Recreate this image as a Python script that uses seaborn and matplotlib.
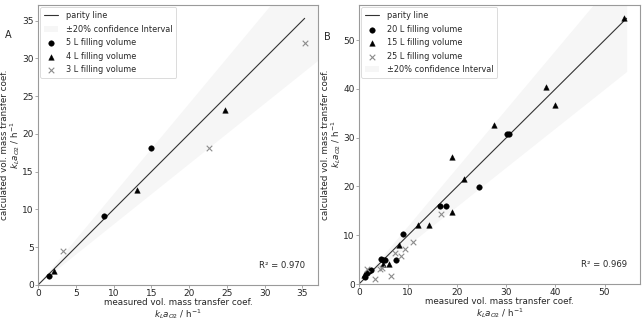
import numpy as np
import pandas as pd
import matplotlib
matplotlib.use("Agg")
import matplotlib.pyplot as plt
import seaborn as sns

# ---- panel A data (measured, calculated) ----
a_5l_meas = [1.4, 8.8, 14.9]
a_5l_calc = [1.2, 9.1, 18.1]
a_4l_meas = [2.1, 13.1, 24.8]
a_4l_calc = [1.9, 12.6, 23.2]
a_3l_meas = [3.3, 22.6, 35.3]
a_3l_calc = [4.5, 18.1, 32.1]
a_r2 = 0.970

# ---- panel B data ----
b_20l_meas = [1.2, 1.6, 2.0, 2.4, 4.5, 4.9, 5.2, 7.5, 9.0, 16.5, 17.7, 24.5, 30.2, 30.6]
b_20l_calc = [1.4, 2.3, 2.6, 2.8, 5.1, 5.0, 5.0, 5.0, 10.2, 16.1, 16.1, 19.9, 30.8, 30.7]
b_15l_meas = [1.0, 4.9, 6.1, 8.2, 12.0, 14.3, 18.9, 21.3, 18.9, 27.5, 38.0, 40.0, 53.9]
b_15l_calc = [1.9, 4.0, 4.0, 8.0, 12.1, 12.1, 14.8, 21.6, 26.0, 32.6, 40.5, 36.8, 54.5]
b_25l_meas = [1.6, 3.3, 4.2, 4.7, 6.5, 7.3, 8.6, 9.3, 10.9, 16.6]
b_25l_calc = [3.0, 1.0, 3.1, 3.2, 1.7, 6.4, 5.7, 7.2, 8.7, 14.4]
b_r2 = 0.969

sns.set_style("ticks")
plt.rcParams["font.family"] = ["DejaVu Sans"]
plt.rcParams["font.size"] = 6.5
fs = 6.5
fs_lab = 6.3
fs_leg = 5.9

grey_spine = "#9a9a9a"
band_col = "#f6f6f6"


def style_axes(ax):
    for s in ax.spines.values():
        s.set_color(grey_spine)
        s.set_linewidth(0.8)
    ax.tick_params(labelsize=fs, length=2, width=0.6, color=grey_spine, pad=1)
    ax.set_xlabel("measured vol. mass transfer coef.\n$k_La_{O2}$ / h$^{-1}$",
                  fontsize=fs_lab, labelpad=0, linespacing=0.95)
    ax.set_ylabel("calculated vol. mass transfer coef.\n$k_La_{O2}$ / h$^{-1}$",
                  fontsize=fs_lab, labelpad=0, linespacing=0.95)


def draw_panel(ax, groups, r2, band_end, order, ticks):
    all_meas = np.concatenate([g[0] for g in groups])
    all_calc = np.concatenate([g[1] for g in groups])
    top = max(all_meas.max(), all_calc.max())
    lim = top * 1.05

    xb = np.array([0, band_end * lim])
    ax.fill_between(xb, 0.8 * xb, 1.2 * xb, color=band_col, lw=0,
                    label="\u00b120% confidence Interval", zorder=0)
    sns.lineplot(x=[0, top], y=[0, top], color="#333333", lw=0.8, ax=ax,
                 label="parity line", zorder=1)

    for meas, calc, marker, col, lab in groups:
        df = pd.DataFrame({"meas": meas, "calc": calc})
        if marker == "x":
            sns.scatterplot(data=df, x="meas", y="calc", marker="x", color=col,
                            s=16, linewidth=0.8, ax=ax, label=lab, zorder=3)
        else:
            sns.scatterplot(data=df, x="meas", y="calc", marker=marker, color=col,
                            s=16, edgecolor=col, linewidth=0.3, ax=ax, label=lab, zorder=3)

    ax.set_xlim(0, lim)
    ax.set_ylim(0, lim)
    ax.set_xticks(ticks)
    ax.set_yticks(ticks)

    handles, labels = ax.get_legend_handles_labels()
    hmap = dict(zip(labels, handles))
    leg = ax.legend([hmap[l] for l in order], order, loc="upper left", fontsize=fs_leg,
                    frameon=True, borderpad=0.45, labelspacing=0.55, handlelength=1.7,
                    handletextpad=1.0, borderaxespad=0.3)
    leg.get_frame().set_linewidth(0.6)
    leg.get_frame().set_edgecolor("#cccccc")

    ax.text(0.955, 0.055, "R\u00b2 = {:.3f}".format(r2), transform=ax.transAxes,
            ha="right", va="bottom", fontsize=6.1)
    style_axes(ax)


fig = plt.figure(figsize=(6.42, 3.19), dpi=100)
ax_a = fig.add_axes([38 / 642, 1 - 285 / 319, 280 / 642, 280 / 319])
ax_b = fig.add_axes([359 / 642, 1 - 284 / 319, 281 / 642, 279 / 319])

groups_a = [
    (a_5l_meas, a_5l_calc, "o", "black", "5 L filling volume"),
    (a_4l_meas, a_4l_calc, "^", "black", "4 L filling volume"),
    (a_3l_meas, a_3l_calc, "x", "#8c8c8c", "3 L filling volume"),
]
draw_panel(ax_a, groups_a, a_r2, 1.0,
           ["parity line", "\u00b120% confidence Interval", "5 L filling volume",
            "4 L filling volume", "3 L filling volume"],
           [0, 5, 10, 15, 20, 25, 30, 35])

groups_b = [
    (b_20l_meas, b_20l_calc, "o", "black", "20 L filling volume"),
    (b_15l_meas, b_15l_calc, "^", "black", "15 L filling volume"),
    (b_25l_meas, b_25l_calc, "x", "#8c8c8c", "25 L filling volume"),
]
draw_panel(ax_b, groups_b, b_r2, 1 / 1.05,
           ["parity line", "20 L filling volume", "15 L filling volume",
            "25 L filling volume", "\u00b120% confidence Interval"],
           [0, 10, 20, 30, 40, 50])

fig.text(5 / 642, 1 - 35 / 319, "A", fontsize=7, va="center")
fig.text(324 / 642, 1 - 37 / 319, "B", fontsize=7, va="center")

fig.savefig("out.png", dpi=100)
